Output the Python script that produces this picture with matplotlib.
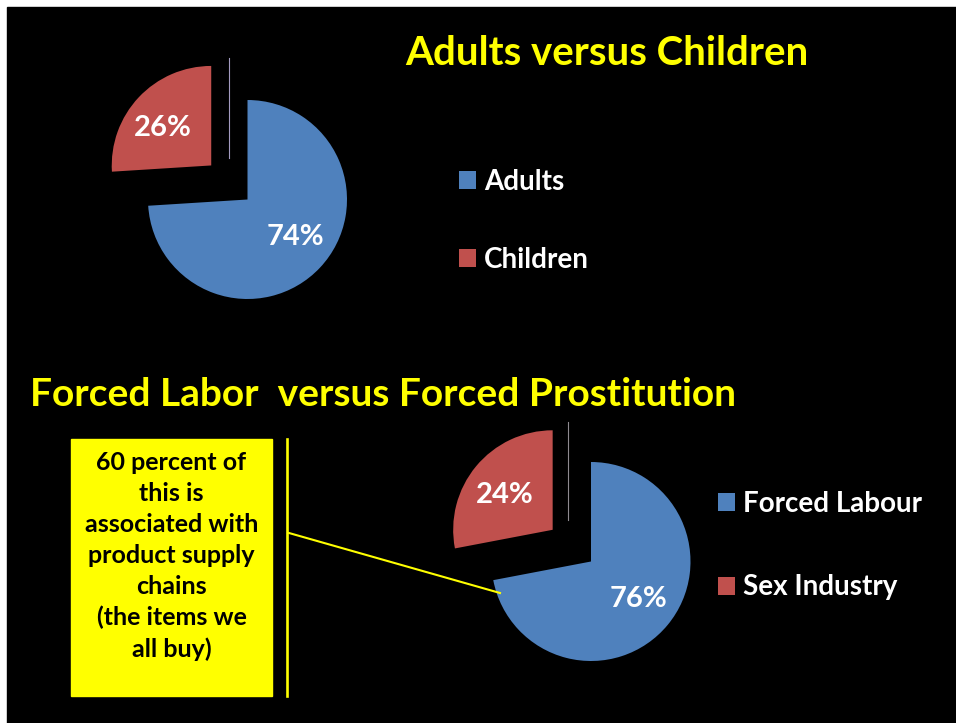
import numpy as np
import matplotlib
matplotlib.use('Agg')
from matplotlib import pyplot as plt
from matplotlib.patches import Rectangle

plt.rcParams['font.family'] = ['Lato', 'DejaVu Sans']
plt.rcParams['font.weight'] = 'bold'

# 数据
age_labels = ['Adults', 'Children']
age_values = [74, 26]
age_pct = ['74%', '26%']

work_labels = ['Forced Labour', 'Sex Industry']
work_values = [72, 28]  # 按图中扇形角度读取
work_pct = ['76%', '24%']

box_text = '60 percent of\nthis is\nassociated with\nproduct supply\nchains\n(the items we\nall buy)'

colors = ['#4F81BD', '#C0504D']
W, H = 956, 723
R = 99.5


def py(y):
    # 像素坐标(从上往下) -> 数据坐标
    return H - y


fig = plt.figure(figsize=(W / 100, H / 100), dpi=100, facecolor='white')
ax = fig.add_axes([0, 0, 1, 1])
ax.add_patch(Rectangle((7, 0), W - 7, H - 7, color='black', zorder=0))

# 上图: 成人 vs 儿童  (explode 是数据单位, 所以乘半径)
w1, _ = ax.pie(age_values, colors=colors, startangle=90, counterclock=False,
               explode=[0, 0.5 * R], radius=R, center=(247.5, py(199.5)),
               wedgeprops=dict(linewidth=0))
ax.plot([229, 229], [py(58), py(158)], c='#a39bc0', lw=0.8)
ax.text(295, py(237), age_pct[0], color='white', fontsize=21, ha='center', va='center')
ax.text(163, py(128), age_pct[1], color='white', fontsize=21, ha='center', va='center')

# 下图: 强迫劳动 vs 强迫卖淫
w2, _ = ax.pie(work_values, colors=colors, startangle=90, counterclock=False,
               explode=[0, 0.5 * R], radius=R, center=(591, py(561.5)),
               wedgeprops=dict(linewidth=0))
ax.plot([568, 568], [py(422), py(520)], c='#8e8a90', lw=0.8)
ax.text(638.5, py(599), work_pct[0], color='white', fontsize=21, ha='center', va='center')
ax.text(504.5, py(495), work_pct[1], color='white', fontsize=21, ha='center', va='center')

# 标题
ax.text(405, py(65), 'Adults versus Children', color='#FFFF00', fontsize=29,
        ha='left', va='baseline')
ax.text(30, py(406), 'Forced Labor  versus Forced Prostitution', color='#FFFF00',
        fontsize=28, ha='left', va='baseline')

# 图例
leg1 = ax.legend(w1, age_labels, loc='upper left', bbox_to_anchor=(459, py(169)),
                 bbox_transform=ax.transData, frameon=False, labelcolor='white',
                 prop=dict(family='Lato', weight='bold', size=20),
                 handlelength=0.6, handleheight=0.6, handletextpad=0.3,
                 labelspacing=1.86, borderpad=0, borderaxespad=0)
ax.add_artist(leg1)
ax.legend(w2, work_labels, loc='upper left', bbox_to_anchor=(718, py(491)),
          bbox_transform=ax.transData, frameon=False, labelcolor='white',
          prop=dict(family='Lato', weight='bold', size=20),
          handlelength=0.6, handleheight=0.6, handletextpad=0.3,
          labelspacing=2.07, borderpad=0, borderaxespad=0)

# 黄色说明框
ax.add_patch(Rectangle((71, py(696)), 201, 257, color='#FFFF00', zorder=2))
ax.text(171.5, py(556), box_text, color='black', fontsize=18, ha='center',
        va='center', linespacing=1.42, zorder=3)
ax.plot([287.5, 287.5], [py(439), py(696)], c='#FFFF00', lw=1.9)
ax.plot([289, 500], [py(533), py(593)], c='#FFFF00', lw=1.5)

ax.set_xlim(0, W)
ax.set_ylim(0, H)
ax.set_aspect('auto')
ax.axis('off')
fig.savefig('out.png', dpi=100, facecolor='white')
